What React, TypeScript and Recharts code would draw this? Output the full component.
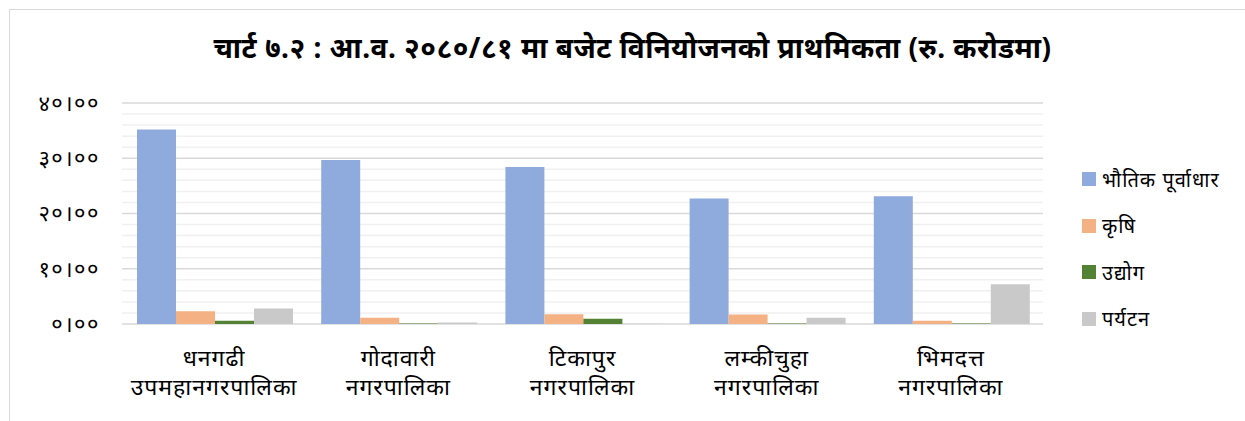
import React from "react";
import { BarChart, Bar, XAxis, YAxis, CartesianGrid } from "recharts";

const TITLE = "चार्ट ७.२ : आ.व. २०८०/८१ मा बजेट विनियोजनको प्राथमिकता (रु. करोडमा)";

const categoriesLine1 = ["धनगढी", "गोदावारी", "टिकापुर", "लम्कीचुहा", "भिमदत्त"];
const categoriesLine2 = [
  "उपमहानगरपालिका",
  "नगरपालिका",
  "नगरपालिका",
  "नगरपालिका",
  "नगरपालिका",
];

const infrastructure = [35.2, 29.7, 28.4, 22.7, 23.1];
const agriculture = [2.3, 1.15, 1.75, 1.7, 0.6];
const industry = [0.6, 0.1, 0.95, 0.1, 0.1];
const tourism = [2.8, 0.25, 0.05, 1.15, 7.2];

const seriesNames = ["भौतिक पूर्वाधार", "कृषि", "उद्योग", "पर्यटन"];
const seriesKeys = ["infra", "agri", "ind", "tour"];
const COLORS = ["#8faadc", "#f4b183", "#548235", "#c9c9c9"];

const majorTicks = [0, 10, 20, 30, 40];
const majorTickLabels = ["०।००", "१०।००", "२०।००", "३०।००", "४०।००"];
const minorLines = [2, 4, 6, 8, 12, 14, 16, 18, 22, 24, 26, 28, 32, 34, 36, 38];

const data = categoriesLine1.map((c, i) => ({
  name: c,
  sub: categoriesLine2[i],
  infra: infrastructure[i],
  agri: agriculture[i],
  ind: industry[i],
  tour: tourism[i],
}));

const FONT = "'Noto Sans', sans-serif";

function CategoryTick(props: any) {
  const { x, y, payload } = props;
  const row = data[payload.index];
  return (
    <text
      x={x}
      y={y}
      textAnchor="middle"
      fill="#000"
      fontSize={23}
      letterSpacing={1}
      fontFamily={FONT}
    >
      <tspan x={x} dy={34}>
        {row ? row.name : payload.value}
      </tspan>
      <tspan x={x} dy={29}>
        {row ? row.sub : ""}
      </tspan>
    </text>
  );
}

function LegendList() {
  return (
    <div
      style={{
        position: "absolute",
        left: 1082,
        top: 156,
        fontFamily: FONT,
        fontSize: 20,
        letterSpacing: 1,
        color: "#000",
      }}
    >
      {seriesNames.map((n, i) => (
        <div
          key={n}
          style={{ display: "flex", alignItems: "center", height: 46.5 }}
        >
          <span
            style={{
              width: 14,
              height: 14,
              background: COLORS[i],
              display: "inline-block",
              marginRight: 6,
            }}
          />
          <span>{n}</span>
        </div>
      ))}
    </div>
  );
}

export default function App() {
  return (
    <div
      style={{
        position: "absolute",
        left: 0,
        top: 0,
        width: 1245,
        height: 421,
        background: "#fff",
        overflow: "hidden",
      }}
    >
      <div
        style={{
          position: "absolute",
          left: 9,
          top: 9,
          width: 1300,
          height: 500,
          borderLeft: "1.5px solid #d9d9d9",
          borderTop: "1.5px solid #d9d9d9",
        }}
      />
      <div
        style={{
          position: "absolute",
          left: 0,
          top: 28,
          width: 1265,
          textAlign: "center",
          fontFamily: FONT,
          fontWeight: 700,
          fontSize: 28,
          letterSpacing: 0.5,
          color: "#000",
        }}
      >
        {TITLE}
      </div>
      <div style={{ position: "absolute", left: 0, top: 0 }}>
        <BarChart
          width={1245}
          height={421}
          data={data}
          margin={{ top: 103, right: 202, left: 12, bottom: 0 }}
          barCategoryGap={15}
          barGap={0}
        >
          <CartesianGrid
            vertical={false}
            horizontalValues={minorLines}
            stroke="#f0f0f0"
            strokeWidth={1.5}
          />
          <CartesianGrid vertical={false} stroke="#d9d9d9" strokeWidth={1.5} />
          <XAxis
            dataKey="name"
            axisLine={false}
            tickLine={false}
            height={97}
            interval={0}
            tick={<CategoryTick />}
          />
          <YAxis
            domain={[0, 40]}
            ticks={majorTicks}
            width={110}
            axisLine={false}
            tickLine={false}
            tick={{ fill: "#000", fontSize: 22, fontFamily: FONT, letterSpacing: 1.5 }}
            tickFormatter={(v: number) => majorTickLabels[majorTicks.indexOf(v)]}
            tickMargin={16}
          />
          {seriesKeys.map((k, i) => (
            <Bar
              key={k}
              dataKey={k}
              name={seriesNames[i]}
              fill={COLORS[i]}
              isAnimationActive={false}
            />
          ))}
        </BarChart>
      </div>
      <LegendList />
    </div>
  );
}
